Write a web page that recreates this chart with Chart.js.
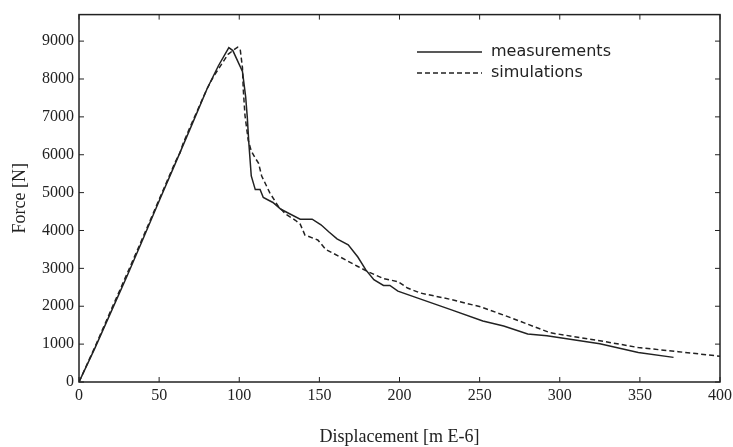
<!DOCTYPE html>
<html lang="en">
<head>
    <meta charset="UTF-8">
    <meta name="viewport" content="width=device-width, initial-scale=1.0">
    <script src="https://cdn.jsdelivr.net/npm/chart.js"></script>
    <title>Force x Displacement</title>
    <style>
        html, body { margin: 0; padding: 0; background: #fff; }
        .caixa { width: 733px; height: 447px; }
    </style>
</head>
<body>
    <div class="caixa">
        <canvas id="myChart"></canvas>
    </div>
<script>
    // dados (deslocamento em m E-6, força em N)
    const measX = [0, 10, 20, 30, 40, 50, 60, 70, 80, 87, 93.5, 96, 102, 104, 105, 106, 107.5, 110, 113, 115, 121, 126, 138, 145.5, 151, 156, 161, 168, 174, 179, 184, 190, 194, 199, 211, 232, 252, 265, 280, 292, 325, 349, 371];
    const measY = [0, 900, 1850, 2800, 3780, 4780, 5760, 6750, 7750, 8350, 8830, 8750, 8200, 7530, 7000, 6300, 5440, 5080, 5080, 4870, 4740, 4560, 4300, 4300, 4150, 3960, 3780, 3620, 3300, 2960, 2700, 2550, 2550, 2400, 2220, 1910, 1610, 1480, 1270, 1220, 1010, 780, 650];

    const simX = [0, 10, 20, 30, 40, 50, 60, 63, 65, 70, 80, 84, 93, 96, 99, 100.6, 102, 102.5, 103.6, 105.6, 107.5, 110, 112, 114, 119, 124, 129, 135, 138, 141, 149, 154, 163, 174, 180, 190, 199, 205, 213, 232, 251, 268, 294, 325, 349, 374, 400];
    const simY = [0, 930, 1900, 2860, 3830, 4820, 5800, 6050, 6300, 6800, 7750, 8070, 8650, 8750, 8840, 8780, 8300, 7730, 7030, 6380, 6100, 5910, 5780, 5440, 5000, 4660, 4430, 4270, 4170, 3880, 3750, 3500, 3300, 3050, 2920, 2730, 2650, 2480, 2350, 2180, 1980, 1720, 1300, 1090, 910, 800, 680];

    const xTicks = [0, 50, 100, 150, 200, 250, 300, 350, 400];
    const yTicks = [0, 1000, 2000, 3000, 4000, 5000, 6000, 7000, 8000, 9000];
    const serieNomes = ['measurements', 'simulations'];

    function pontos(xs, ys) {
        let lista = [];
        for (let i = 0; i < xs.length; i++) {
            lista.push({ x: xs[i], y: ys[i] });
        }
        return lista;
    }

    // moldura com tracinhos para dentro, e legenda dentro do gráfico
    const moldura = {
        id: 'moldura',
        afterDraw(chart) {
            const ctx = chart.ctx;
            const a = chart.chartArea;
            const sx = chart.scales.x;
            const sy = chart.scales.y;
            ctx.save();
            ctx.strokeStyle = '#222';
            ctx.lineWidth = 1.5;
            ctx.strokeRect(a.left, a.top, a.right - a.left, a.bottom - a.top);
            ctx.lineWidth = 1;
            ctx.beginPath();
            xTicks.forEach(function (v) {
                const px = sx.getPixelForValue(v);
                ctx.moveTo(px, a.bottom); ctx.lineTo(px, a.bottom - 5);
                ctx.moveTo(px, a.top); ctx.lineTo(px, a.top + 5);
            });
            yTicks.forEach(function (v) {
                const py = sy.getPixelForValue(v);
                ctx.moveTo(a.left, py); ctx.lineTo(a.left + 5, py);
                ctx.moveTo(a.right, py); ctx.lineTo(a.right - 5, py);
            });
            ctx.stroke();

            // legenda
            const ds = chart.data.datasets;
            const linhas = [52, 73];
            ctx.font = '16px "DejaVu Sans"';
            ctx.textBaseline = 'middle';
            ctx.fillStyle = '#222';
            for (let i = 0; i < ds.length; i++) {
                ctx.beginPath();
                ctx.lineWidth = 1.5;
                ctx.setLineDash(ds[i].borderDash || []);
                ctx.moveTo(417, linhas[i]);
                ctx.lineTo(482, linhas[i]);
                ctx.stroke();
                ctx.setLineDash([]);
                ctx.fillText(ds[i].label, 491, linhas[i]);
            }
            ctx.restore();
        }
    };

    const dados = {
        datasets: [{
            label: serieNomes[0],
            data: pontos(measX, measY),
            borderColor: '#222',
            borderWidth: 1.5,
            pointRadius: 0,
            fill: false,
            tension: 0
        }, {
            label: serieNomes[1],
            data: pontos(simX, simY),
            borderColor: '#222',
            borderWidth: 1.5,
            borderDash: [5, 3],
            pointRadius: 0,
            fill: false,
            tension: 0
        }]
    };

    const config = {
        type: 'line',
        data: dados,
        plugins: [moldura],
        options: {
            responsive: true,
            maintainAspectRatio: false,
            animation: false,
            layout: { padding: { top: 9, right: 13, left: 0, bottom: 0 } },
            plugins: {
                legend: { display: false },
                tooltip: { enabled: false }
            },
            scales: {
                x: {
                    type: 'linear',
                    min: 0,
                    max: 400,
                    afterBuildTicks: function (s) { s.ticks = xTicks.map(function (v) { return { value: v }; }); },
                    afterFit: function (s) { s.height = 65; s.paddingRight = 0; s.paddingLeft = 0; },
                    grid: { display: false, drawTicks: false },
                    border: { display: false },
                    ticks: {
                        padding: 4,
                        color: '#222',
                        font: { family: 'Liberation Serif', size: 16 },
                        maxRotation: 0,
                        callback: function (v) { return String(v); }
                    },
                    title: {
                        display: true,
                        text: 'Displacement [m E-6]',
                        color: '#222',
                        font: { family: 'Liberation Serif', size: 18 },
                        padding: { top: 14, bottom: -1 }
                    }
                },
                y: {
                    type: 'linear',
                    min: 0,
                    max: 9700,
                    afterBuildTicks: function (s) { s.ticks = yTicks.map(function (v) { return { value: v }; }); },
                    afterFit: function (s) { s.width = 79; },
                    grid: { display: false, drawTicks: false },
                    border: { display: false },
                    ticks: {
                        padding: 5,
                        color: '#222',
                        font: { family: 'Liberation Serif', size: 16 },
                        callback: function (v) { return String(v); }
                    },
                    title: {
                        display: true,
                        text: 'Force [N]',
                        color: '#222',
                        font: { family: 'Liberation Serif', size: 18 },
                        padding: { top: 9, bottom: 0 }
                    }
                }
            }
        }
    };

    let myChart = new Chart(document.getElementById('myChart'), config);
</script>
</body>
</html>
